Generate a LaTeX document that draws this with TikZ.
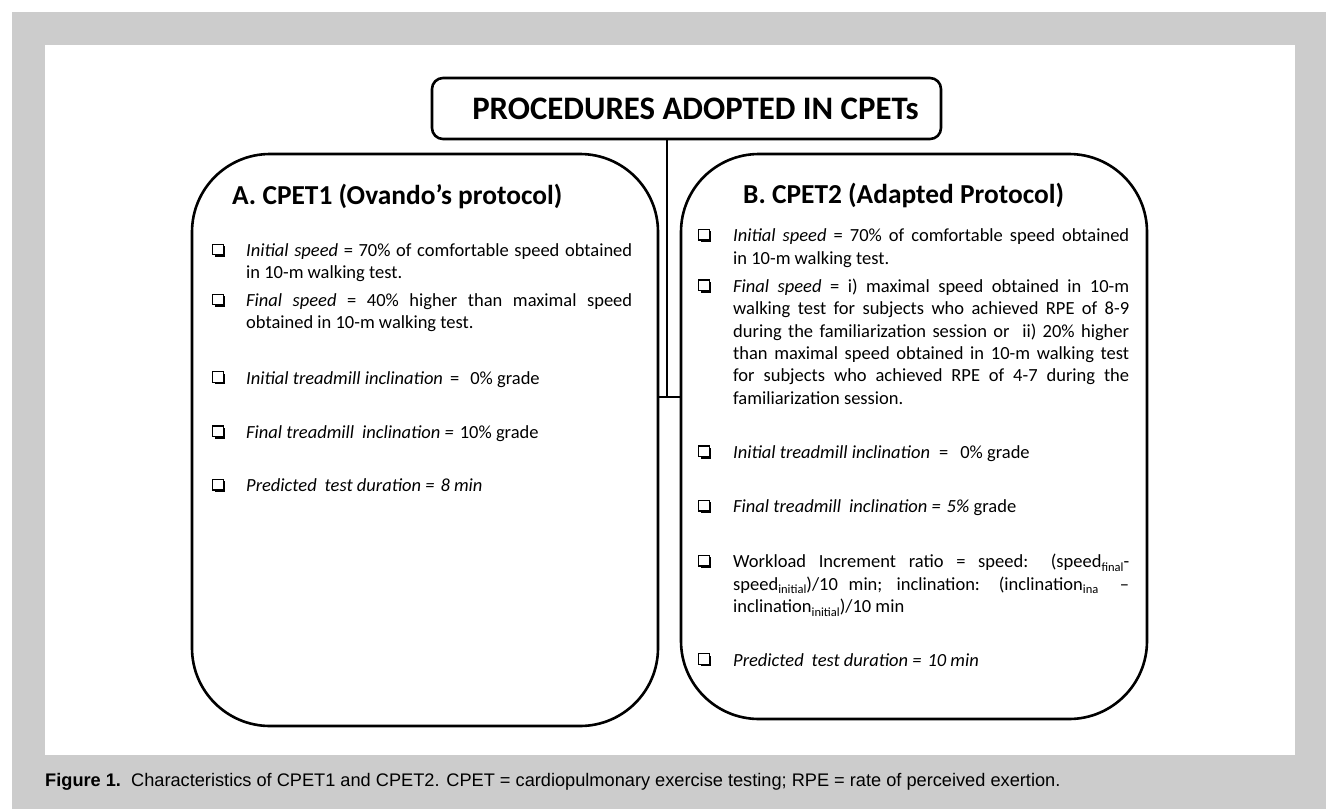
\documentclass[tikz,border=0pt]{standalone}
\usepackage{fontspec}
\setmainfont{Carlito}
\newfontfamily\capfont{Liberation Sans}
\usetikzlibrary{shadows}
\definecolor{bggrey}{RGB}{204,204,204}
\newcommand{\jl}[2]{\makebox[#1pt][s]{#2}}
\newcommand{\sbs}[1]{\raisebox{-3.5pt}{\fontsize{12.5}{14}\selectfont #1}}
\begin{document}
\begin{tikzpicture}[x=1pt,y=-1pt,
  panel/.style={draw=black, line width=2.6pt, rounded corners=78pt, inner sep=0pt},
  titlebox/.style={draw=black, line width=2.6pt, rounded corners=11pt, inner sep=0pt, minimum width=509pt, minimum height=61pt},
  conn/.style={draw=black, line width=2.4pt},
  txt/.style={inner sep=0pt, anchor=base west, font=\fontsize{18.5}{22}\selectfont},
  head/.style={inner sep=0pt, anchor=base west, font=\fontsize{27.4}{32}\selectfont\bfseries},
  chk/.style={draw=black, fill=white, line width=1.4pt, minimum size=10.5pt, inner sep=0pt,
    drop shadow={shadow xshift=2pt, shadow yshift=-2pt, opacity=1, fill=black}},
  capt/.style={inner sep=0pt, anchor=base west, font=\capfont\fontsize{18.2}{21}\selectfont}
]
\useasboundingbox (0,0) rectangle (1326,809);
\fill[white] (0,0) rectangle (1326,809);
\fill[bggrey] (12,12) rectangle (1326,809);
\fill[white] (45,45) rectangle (1295,755);

% title
\node[titlebox] (title) at (686.5,108.5) {};
\node[inner sep=0pt, anchor=base, font=\fontsize{32.8}{38}\selectfont\bfseries] (titletext) at (695.5,119.3) {PROCEDURES ADOPTED IN CPETs};

% panels
\node[panel, minimum width=466pt, minimum height=572pt] (boxA) at (425,440) {};
\node[panel, minimum width=466pt, minimum height=565pt] (boxB) at (914,436.5) {};

% connectors
\coordinate (j) at (667,397);
\draw[conn] (j |- title.south) -- (j);
\draw[conn] (boxA.east |- j) -- (boxB.west |- j);

% headings
\node[head] (hA) at (232,204) {A. CPET1 (Ovando’s protocol)};
\node[head] (hB) at (743,203.3) {B. CPET2 (Adapted Protocol)};

% left items
\node[chk] (ca1) at (218,249.5) {};
\node[txt] (a1a) at (246,256.7) {\jl{386}{\textit{Initial speed} = 70\% of comfortable speed obtained}};
\node[txt] (a1b) at (246,278.7) {in 10-m walking test.};
\node[chk] (ca2) at (218,299.5) {};
\node[txt] (a2a) at (246,306.7) {\jl{386}{\textit{Final speed} = 40\% higher than maximal speed}};
\node[txt] (a2b) at (246,328.7) {obtained in 10-m walking test.};
\node[chk] (ca3) at (218,377) {};
\node[txt] (a3) at (246,384) {\textit{Initial treadmill inclination}\hspace{7pt}=\hspace{11pt}0\% grade};
\node[chk] (ca4) at (218,431.3) {};
\node[txt] (a4) at (246,438.3) {\textit{Final treadmill\hspace{8pt}inclination =}\hspace{6pt}10\% grade};
\node[chk] (ca5) at (218,484.7) {};
\node[txt] (a5) at (246,491.7) {\textit{Predicted\hspace{8pt}test duration =\hspace{6pt}8 min}};

% right items
\node[chk] (cb1) at (704,234.7) {};
\node[txt] (b1a) at (733,241.7) {\jl{396}{\textit{Initial speed} = 70\% of comfortable speed obtained}};
\node[txt] (b1b) at (733,264) {in 10-m walking test.};
\node[chk] (cb2) at (704,285.3) {};
\node[txt] (b2a) at (733,292.3) {\jl{396}{\textit{Final speed} = i) maximal speed obtained in 10-m}};
\node[txt] (b2b) at (733,314.5) {\jl{396}{walking test for subjects who achieved RPE of 8-9}};
\node[txt] (b2c) at (733,337) {\jl{396}{during the familiarization session or \ ii) 20\% higher}};
\node[txt] (b2d) at (733,359.3) {\jl{396}{than maximal speed obtained in 10-m walking test}};
\node[txt] (b2e) at (733,381.7) {\jl{396}{for subjects who achieved RPE of 4-7 during the}};
\node[txt] (b2f) at (733,404.5) {familiarization session.};
\node[chk] (cb3) at (704,451.3) {};
\node[txt] (b3) at (733,458.3) {\textit{Initial treadmill inclination}\hspace{9pt}=\hspace{12pt}0\% grade};
\node[chk] (cb4) at (704,505.7) {};
\node[txt] (b4) at (733,512.7) {\textit{Final treadmill\hspace{8pt}inclination =\hspace{6pt}5\%} grade};
\node[chk] (cb5) at (704,560.7) {};
\node[txt] (b5a) at (733,567.7) {\jl{396}{Workload Increment ratio = speed: (speed\sbs{final}-}};
\node[txt] (b5b) at (733,590) {\jl{396}{speed\sbs{initial})/10 min; inclination: (inclination\sbs{ina} \ –}};
\node[txt] (b5c) at (733,612.7) {inclination\sbs{initial})/10 min};
\node[chk] (cb6) at (704,659) {};
\node[txt] (b6) at (733,666) {\textit{Predicted\hspace{8pt}test duration =\hspace{6pt}10 min}};

% caption
\node[capt] (cap) at (45,786.7) {\textbf{Figure 1.}\ \ Characteristics of CPET1 and CPET2. CPET = cardiopulmonary exercise testing; RPE = rate of perceived exertion.};
\end{tikzpicture}
\end{document}
